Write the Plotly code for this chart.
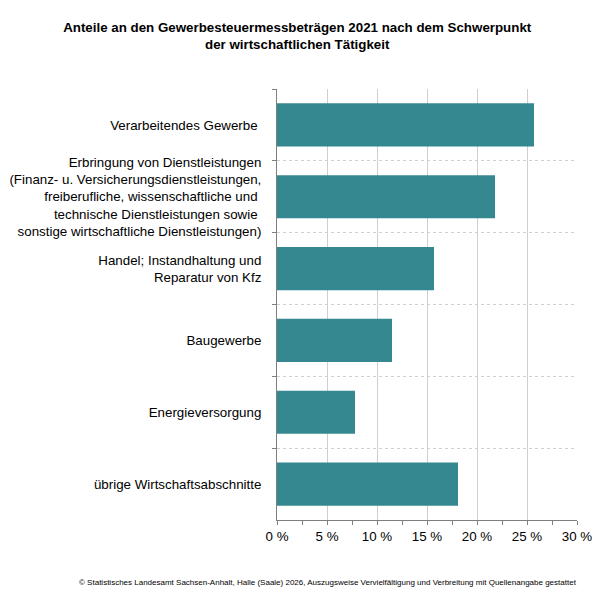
import plotly.graph_objects as go

categories = [
    "Verarbeitendes Gewerbe\u00a0",
    "Erbringung von Dienstleistungen<br>(Finanz- u. Versicherungsdienstleistungen,<br>freiberufliche, wissenschaftliche und\u00a0<br>technische Dienstleistungen sowie\u00a0<br>sonstige wirtschaftliche Dienstleistungen)",
    "Handel; Instandhaltung und<br>Reparatur von Kfz",
    "Baugewerbe",
    "Energieversorgung",
    "übrige Wirtschaftsabschnitte",
]
values = [25.7, 21.8, 15.7, 11.5, 7.8, 18.1]
x_ticks = [0, 5, 10, 15, 20, 25, 30]
x_tick_labels = ["0 %", "5 %", "10 %", "15 %", "20 %", "25 %", "30 %"]

positions = list(range(len(categories)))
boundaries = [p + 0.5 for p in positions[:-1]] + [-0.5]

font_family = "Liberation Sans, Arial, sans-serif"
fs = 13.33

fig = go.Figure(go.Bar(
    x=values,
    y=positions,
    orientation="h",
    width=0.6,
    marker=dict(color="#368890", line=dict(width=0)),
    hoverinfo="x+y",
))

fig.update_layout(
    width=600, height=600,
    paper_bgcolor="white", plot_bgcolor="white",
    margin=dict(l=269, r=31, t=81, b=88),
    showlegend=False,
    font=dict(family=font_family, color="#000000", size=fs),
    title=dict(
        text="<b>Anteile an den Gewerbesteuermessbeträgen 2021 nach dem Schwerpunkt<br>der wirtschaftlichen Tätigkeit</b>",
        xref="container", x=0.482, xanchor="center",
        yref="container", y=0.960, yanchor="top",
        font=dict(size=fs, family=font_family, color="#000000"),
    ),
    xaxis=dict(
        range=[0, 30], tickvals=x_ticks, ticktext=x_tick_labels,
        showgrid=True, gridcolor="#cfcfcf", gridwidth=1,
        showline=True, linecolor="#7f7f7f", linewidth=1,
        ticks="outside", ticklen=4, tickcolor="#7f7f7f",
        minor=dict(tickvals=[2.5, 7.5, 12.5, 17.5, 22.5, 27.5], ticks="outside", ticklen=4, tickcolor="#7f7f7f", showgrid=False),
        tickfont=dict(size=fs), zeroline=False, fixedrange=True, automargin=False,
    ),
    yaxis=dict(
        range=[5.5, -0.5], tickvals=positions, ticktext=categories,
        showgrid=False, ticks="", ticklabelstandoff=12,
        showline=True, linecolor="#7f7f7f", linewidth=1,
        minor=dict(tickvals=boundaries, ticks="outside", ticklen=4, tickcolor="#7f7f7f",
                   showgrid=True, gridcolor="#d0d0d0", griddash="dot", gridwidth=1),
        tickfont=dict(size=fs), zeroline=False, fixedrange=True, automargin=False,
    ),
    annotations=[dict(
        text="© Statistisches Landesamt Sachsen-Anhalt, Halle (Saale) 2026, Auszugsweise Vervielfältigung und Verbreitung mit Quellenangabe gestattet",
        xref="paper", yref="paper", x=1.0067, y=-0.1455, xanchor="right", yanchor="middle",
        showarrow=False, font=dict(size=8, family=font_family, color="#000000"),
    )],
)

fig.write_html("out.html")
